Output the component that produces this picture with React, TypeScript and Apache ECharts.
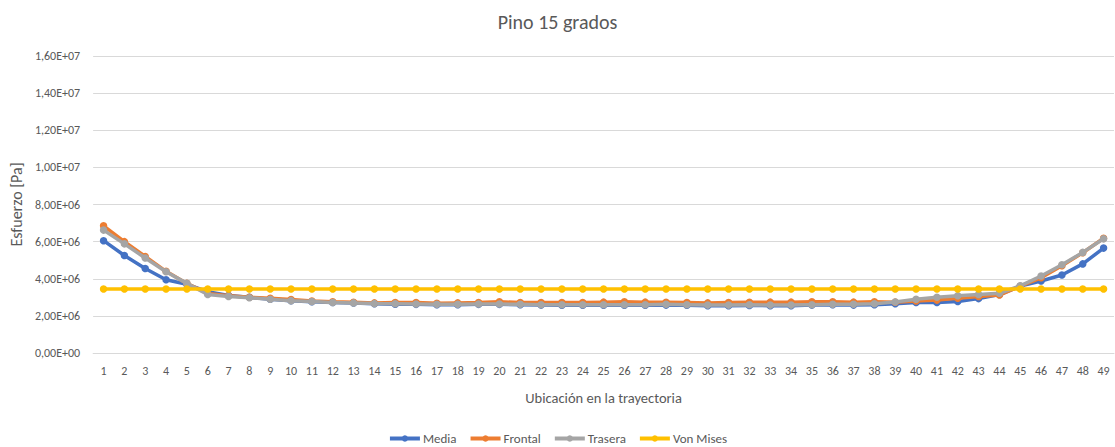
import React, { useEffect, useRef } from "react";
import * as echarts from "echarts";

const categories: string[] = Array.from({ length: 49 }, (_, i) => String(i + 1));

const media: number[] = [
  6.05, 5.25, 4.55, 3.95, 3.7, 3.3, 3.1, 3.0, 2.9, 2.82,
  2.76, 2.72, 2.7, 2.65, 2.63, 2.62, 2.6, 2.6, 2.62, 2.62,
  2.6, 2.58, 2.57, 2.57, 2.57, 2.57, 2.57, 2.58, 2.57, 2.55,
  2.55, 2.56, 2.55, 2.55, 2.58, 2.6, 2.58, 2.6, 2.65, 2.72,
  2.72, 2.78, 2.93, 3.15, 3.6, 3.88, 4.2, 4.8, 5.65,
].map((v) => v * 1e6);

const frontal: number[] = [
  6.85, 6.0, 5.2, 4.4, 3.75, 3.2, 3.08, 3.0, 2.95, 2.88,
  2.8, 2.76, 2.73, 2.7, 2.72, 2.72, 2.68, 2.7, 2.72, 2.76,
  2.72, 2.72, 2.72, 2.72, 2.74, 2.76, 2.74, 2.73, 2.72, 2.7,
  2.72, 2.73, 2.74, 2.74, 2.76, 2.76, 2.74, 2.76, 2.74, 2.8,
  2.85, 2.95, 3.05, 3.12, 3.6, 4.05, 4.7, 5.4, 6.18,
].map((v) => v * 1e6);

const trasera: number[] = [
  6.62, 5.88, 5.12, 4.38, 3.75, 3.15, 3.05, 2.98, 2.9, 2.82,
  2.77, 2.72, 2.7, 2.66, 2.65, 2.64, 2.62, 2.62, 2.64, 2.64,
  2.62, 2.6, 2.6, 2.6, 2.6, 2.6, 2.6, 2.62, 2.6, 2.58,
  2.58, 2.6, 2.58, 2.58, 2.6, 2.62, 2.62, 2.65, 2.75, 2.9,
  3.0, 3.08, 3.15, 3.22, 3.62, 4.15, 4.75, 5.42, 6.15,
].map((v) => v * 1e6);

const vonMises: number[] = [
  3.45, 3.45, 3.45, 3.45, 3.45, 3.45, 3.45, 3.45, 3.45, 3.45,
  3.45, 3.45, 3.45, 3.45, 3.45, 3.45, 3.45, 3.45, 3.45, 3.45,
  3.45, 3.45, 3.45, 3.45, 3.45, 3.45, 3.45, 3.45, 3.45, 3.45,
  3.45, 3.45, 3.45, 3.45, 3.45, 3.45, 3.45, 3.45, 3.45, 3.45,
  3.45, 3.45, 3.45, 3.45, 3.45, 3.45, 3.45, 3.45, 3.45,
].map((v) => v * 1e6);

const seriesNames = ["Media", "Frontal", "Trasera", "Von Mises"];
const seriesColors = ["#4472C4", "#ED7D31", "#A5A5A5", "#FFC000"];
const seriesData = [media, frontal, trasera, vonMises];

const FONT = "Carlito, Calibri, 'Liberation Sans', sans-serif";
const TEXT = "#595959";

function fmtExp(v: number): string {
  if (v === 0) return "0,00E+00";
  const e = Math.floor(Math.log10(Math.abs(v)));
  const m = v / Math.pow(10, e);
  return m.toFixed(2).replace(".", ",") + "E+" + String(e).padStart(2, "0");
}

export default function App() {
  const ref = useRef<HTMLDivElement>(null);
  useEffect(() => {
    if (!ref.current) return;
    const chart = echarts.init(ref.current, undefined, { renderer: "svg" });
    chart.setOption({
      animation: false,
      textStyle: { fontFamily: FONT },
      title: {
        text: "Pino 15 grados",
        left: "center",
        top: 7,
        textStyle: { fontFamily: FONT, fontSize: 20, fontWeight: "normal", color: TEXT },
      },
      legend: {
        data: seriesNames,
        top: 427,
        left: "center",
        itemWidth: 30,
        itemHeight: 8,
        itemGap: 12,
        lineStyle: { width: 4 },
        textStyle: { fontFamily: FONT, fontSize: 13, color: TEXT, padding: [0, 0, 0, -2] },
      },
      grid: { left: 93, right: 1, top: 56, bottom: 94 },
      xAxis: {
        type: "category",
        data: categories,
        boundaryGap: true,
        name: "Ubicación en la trayectoria",
        nameLocation: "middle",
        nameGap: 37,
        nameTextStyle: { fontFamily: FONT, fontSize: 14.5, color: TEXT },
        axisLine: { lineStyle: { color: "#D9D9D9" } },
        axisTick: { show: false },
        axisLabel: { interval: 0, fontFamily: FONT, fontSize: 12, color: TEXT, margin: 12 },
      },
      yAxis: {
        type: "value",
        min: 0,
        max: 16000000,
        interval: 2000000,
        name: "Esfuerzo [Pa]",
        nameLocation: "middle",
        nameGap: 63,
        nameTextStyle: { fontFamily: FONT, fontSize: 16, color: TEXT },
        axisLine: { show: false },
        axisTick: { show: false },
        splitLine: { lineStyle: { color: "#D9D9D9" } },
        axisLabel: { formatter: fmtExp, fontFamily: FONT, fontSize: 12, color: TEXT, margin: 13 },
      },
      series: seriesNames.map((name, i) => ({
        name,
        type: "line",
        data: seriesData[i],
        symbol: "circle",
        symbolSize: 7.5,
        lineStyle: { width: 3.5, color: seriesColors[i] },
        itemStyle: { color: seriesColors[i] },
        z: 2 + i,
      })),
    });
    return () => chart.dispose();
  }, []);
  return (
    <div
      ref={ref}
      style={{ position: "absolute", left: 0, top: 0, width: 1115, height: 447, background: "#fff" }}
    />
  );
}
